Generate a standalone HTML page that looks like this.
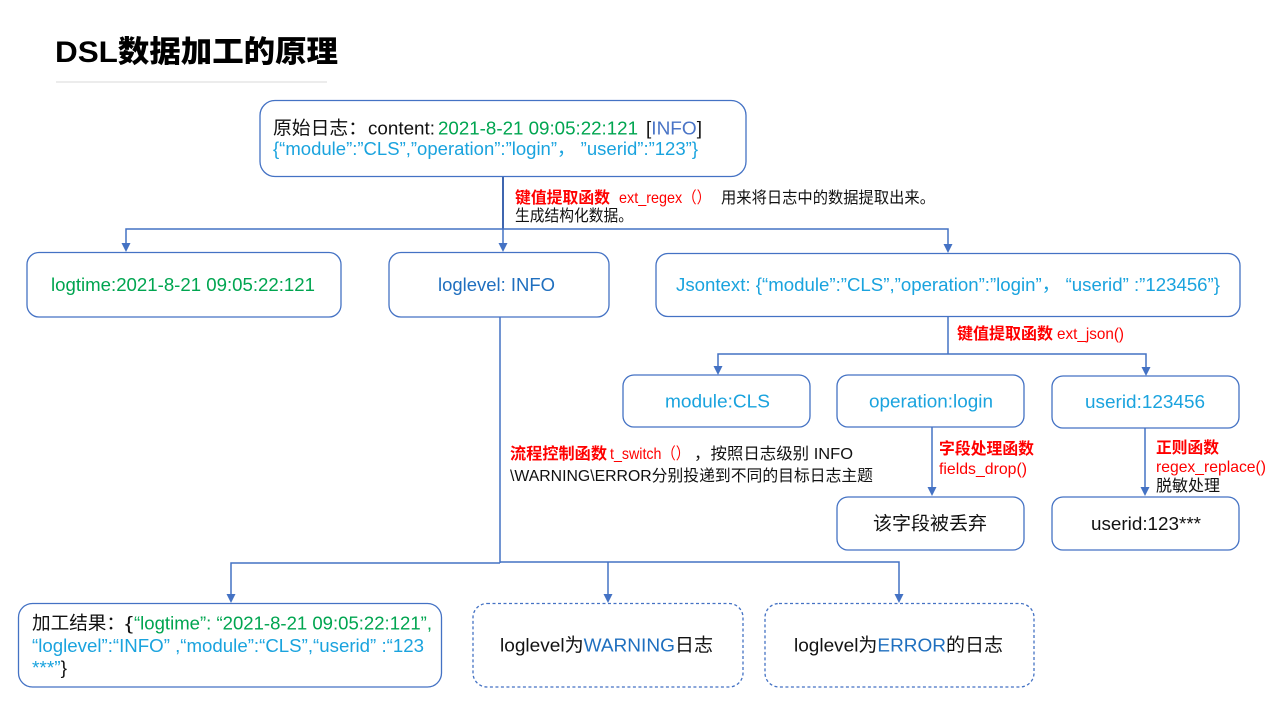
<!DOCTYPE html>
<html><head><meta charset="utf-8"><style>
html,body{margin:0;padding:0;background:#fff;}
svg{display:block;}
text{font-family:"Liberation Sans","Noto Sans CJK SC",sans-serif;}
.b{fill:none;stroke:#4472C4;stroke-width:1.3;}
.d{fill:none;stroke:#4472C4;stroke-width:1.3;stroke-dasharray:3 2.5;}
.l{stroke:#4472C4;stroke-width:1.5;fill:none;}
.ah{fill:#4472C4;}
.g{fill:#00A550;}
.c{fill:#1AA3DE;}
.bl{fill:#1F6FBF;}
.k{fill:#111;}
.r{fill:#FF0000;}
</style></head><body>
<svg width="1280" height="720" viewBox="0 0 1280 720" xmlns="http://www.w3.org/2000/svg">
<!-- Title -->
<text x="55" y="62" font-size="30" font-weight="900" fill="#000" textLength="283" lengthAdjust="spacingAndGlyphs">DSL数据加工的原理</text>
<line x1="56" y1="82" x2="327" y2="82" stroke="#e0e0e0" stroke-width="1.2"/>

<!-- Boxes -->
<rect class="b" x="260" y="100.5" width="486" height="76" rx="15"/>
<rect class="b" x="27" y="252.5" width="314" height="64.5" rx="12"/>
<rect class="b" x="389" y="252.5" width="220" height="64.5" rx="12"/>
<rect class="b" x="656" y="253.5" width="584" height="63" rx="12"/>
<rect class="b" x="623" y="375" width="187" height="52" rx="11"/>
<rect class="b" x="837" y="375" width="187" height="52" rx="11"/>
<rect class="b" x="1052" y="376" width="187" height="52" rx="11"/>
<rect class="b" x="837" y="497" width="187" height="53" rx="11"/>
<rect class="b" x="1052" y="497" width="187" height="53" rx="11"/>
<rect class="b" x="18.5" y="603.5" width="423" height="83.5" rx="14"/>
<rect class="d" x="473" y="603.5" width="270" height="83.5" rx="14"/>
<rect class="d" x="765" y="603.5" width="269" height="83.5" rx="14"/>

<!-- Connectors -->
<line x1="503" y1="177" x2="503" y2="229" stroke="#3F66B0" stroke-width="2"/>
<polyline class="l" points="126,244 126,229 948,229 948,244"/>
<line class="l" x1="503" y1="229" x2="503" y2="244"/>
<polygon class="ah" points="121.5,243 130.5,243 126,252"/>
<polygon class="ah" points="498.5,243 507.5,243 503,252"/>
<polygon class="ah" points="943.5,244 952.5,244 948,253"/>

<line class="l" x1="948" y1="317" x2="948" y2="354"/>
<polyline class="l" points="718,366 718,354 1146,354 1146,367"/>
<polygon class="ah" points="713.5,366 722.5,366 718,375"/>
<polygon class="ah" points="1141.5,367 1150.5,367 1146,376"/>

<line class="l" x1="932" y1="427" x2="932" y2="488"/>
<polygon class="ah" points="927.5,487 936.5,487 932,496"/>
<line class="l" x1="1145" y1="428" x2="1145" y2="488"/>
<polygon class="ah" points="1140.5,487 1149.5,487 1145,496"/>

<line class="l" x1="500" y1="317" x2="500" y2="563"/>
<polyline class="l" points="231,594 231,563 500,563"/>
<polyline class="l" points="500,562 899,562 899,594"/>
<line class="l" x1="608" y1="562" x2="608" y2="594"/>
<polygon class="ah" points="226.5,594 235.5,594 231,603"/>
<polygon class="ah" points="603.5,594 612.5,594 608,603"/>
<polygon class="ah" points="894.5,594 903.5,594 899,603"/>

<!-- Box1 text -->
<text x="273" y="134.5" font-size="18.7" class="k" textLength="94" lengthAdjust="spacingAndGlyphs">原始日志：</text>
<text x="368" y="134.5" font-size="18.7" class="k" textLength="67" lengthAdjust="spacingAndGlyphs">content:</text>
<text x="438" y="134.5" font-size="18.7" class="g" textLength="200" lengthAdjust="spacingAndGlyphs">2021-8-21 09:05:22:121</text>
<text x="646" y="134.5" font-size="18.7" textLength="56" lengthAdjust="spacingAndGlyphs"><tspan class="k">[</tspan><tspan fill="#4A74C6">INFO</tspan><tspan class="k">]</tspan></text>
<text x="273" y="155" font-size="18.7" class="c" textLength="425" lengthAdjust="spacingAndGlyphs">{“module”:”CLS”,”operation”:”login”， ”userid”:”123”}</text>

<!-- Label ext_regex -->
<text x="515" y="203" font-size="16" font-weight="bold" class="r" textLength="95" lengthAdjust="spacingAndGlyphs">键值提取函数</text>
<text x="619" y="203" font-size="16" class="r" textLength="92" lengthAdjust="spacingAndGlyphs">ext_regex（）</text>
<text x="721" y="203" font-size="16" class="k" textLength="214" lengthAdjust="spacingAndGlyphs">用来将日志中的数据提取出来。</text>
<text x="515" y="221" font-size="16" class="k" textLength="118" lengthAdjust="spacingAndGlyphs">生成结构化数据。</text>

<!-- Row 2 -->
<text x="51" y="291" font-size="18.7" class="g" textLength="264" lengthAdjust="spacingAndGlyphs">logtime:2021-8-21 09:05:22:121</text>
<text x="438" y="291" font-size="18.7" class="bl" textLength="117" lengthAdjust="spacingAndGlyphs">loglevel: INFO</text>
<text x="676" y="291" font-size="18.7" class="c" textLength="544" lengthAdjust="spacingAndGlyphs">Jsontext: {“module”:”CLS”,”operation”:”login”， “userid” :”123456”}</text>

<!-- ext_json label -->
<text x="957" y="339" font-size="16" font-weight="bold" class="r" textLength="96" lengthAdjust="spacingAndGlyphs">键值提取函数</text>
<text x="1057" y="339" font-size="16" class="r" textLength="67" lengthAdjust="spacingAndGlyphs">ext_json()</text>

<!-- Row 3 -->
<text x="665" y="407.5" font-size="18.7" class="c" textLength="105" lengthAdjust="spacingAndGlyphs">module:CLS</text>
<text x="869" y="407.5" font-size="18.7" class="c" textLength="124" lengthAdjust="spacingAndGlyphs">operation:login</text>
<text x="1085" y="408" font-size="18.7" class="c" textLength="120" lengthAdjust="spacingAndGlyphs">userid:123456</text>

<!-- Labels row 3-4 -->
<text x="939" y="454" font-size="16" font-weight="bold" class="r" textLength="95" lengthAdjust="spacingAndGlyphs">字段处理函数</text>
<text x="939" y="474" font-size="16" class="r" textLength="88" lengthAdjust="spacingAndGlyphs">fields_drop()</text>
<text x="1156" y="453" font-size="16" font-weight="bold" class="r" textLength="63" lengthAdjust="spacingAndGlyphs">正则函数</text>
<text x="1156" y="472" font-size="16" class="r" textLength="110" lengthAdjust="spacingAndGlyphs">regex_replace()</text>
<text x="1156" y="491" font-size="16" class="k" textLength="64" lengthAdjust="spacingAndGlyphs">脱敏处理</text>

<!-- t_switch label -->
<text x="510" y="459" font-size="16" font-weight="bold" class="r" textLength="97" lengthAdjust="spacingAndGlyphs">流程控制函数</text>
<text x="610" y="459" font-size="16" class="r" textLength="80" lengthAdjust="spacingAndGlyphs">t_switch（）</text>
<text x="694" y="459" font-size="16" class="k" textLength="159" lengthAdjust="spacingAndGlyphs">，按照日志级别 INFO</text>
<text x="510" y="481" font-size="16" class="k" textLength="363" lengthAdjust="spacingAndGlyphs">\WARNING\ERROR分别投递到不同的目标日志主题</text>

<!-- Row 4 -->
<text x="873" y="530" font-size="18.7" class="k" textLength="114" lengthAdjust="spacingAndGlyphs">该字段被丢弃</text>
<text x="1091" y="530" font-size="18.7" class="k" textLength="110" lengthAdjust="spacingAndGlyphs">userid:123***</text>

<!-- Result box -->
<text x="32" y="629.5" font-size="18.7" class="k" textLength="93" lengthAdjust="spacingAndGlyphs">加工结果：</text>
<text x="125" y="629.5" font-size="18.7" class="k" textLength="8" lengthAdjust="spacingAndGlyphs">{</text>
<text x="134" y="629.5" font-size="18.7" class="g" textLength="298" lengthAdjust="spacingAndGlyphs">“logtime”: “2021-8-21 09:05:22:121”,</text>
<text x="32" y="652" font-size="18.7" class="c" textLength="392" lengthAdjust="spacingAndGlyphs">“loglevel”:“INFO” ,“module”:“CLS”,“userid” :“123</text>
<text x="32" y="674" font-size="18.7" textLength="35" lengthAdjust="spacingAndGlyphs"><tspan class="c">***”</tspan><tspan class="k">}</tspan></text>

<!-- Dashed boxes text -->
<text x="500" y="651.5" font-size="18.7" textLength="213" lengthAdjust="spacingAndGlyphs"><tspan class="k">loglevel为</tspan><tspan class="bl">WARNING</tspan><tspan class="k">日志</tspan></text>
<text x="794" y="651.5" font-size="18.7" textLength="209" lengthAdjust="spacingAndGlyphs"><tspan class="k">loglevel为</tspan><tspan class="bl">ERROR</tspan><tspan class="k">的日志</tspan></text>
</svg>
</body></html>
